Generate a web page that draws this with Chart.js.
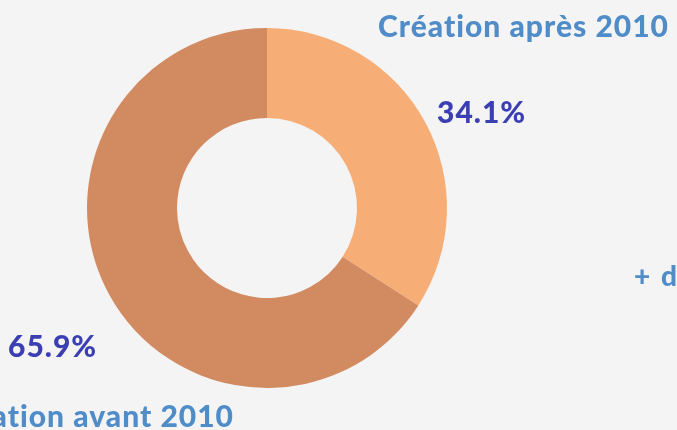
<!DOCTYPE html>
<html>
<head>
<meta charset="utf-8">
<script src="https://cdn.jsdelivr.net/npm/chart.js@4/dist/chart.umd.min.js"></script>
<style>
  html, body { margin: 0; padding: 0; background: #f4f4f4; }
  #wrap { width: 677px; height: 430px; }
</style>
</head>
<body>
<div id="wrap"><canvas id="pieChart" width="677" height="430"></canvas></div>
<script>
var labels = ['Création après 2010', 'Création avant 2010'];
var values = [34.1, 65.9];
var colors = ['#f6ae76', '#d28b61'];

// texts drawn around the ring, placed from the chart centre
var textPlugin = {
  id: 'texts',
  afterDraw: function (chart) {
    var ctx = chart.ctx;
    var arc = chart.getDatasetMeta(0).data[0];
    var cx = arc.x, cy = arc.y;
    ctx.save();
    ctx.textBaseline = 'alphabetic';
    ctx.letterSpacing = '1px';

    ctx.fillStyle = '#508dc8';
    ctx.font = '900 30px Lato';
    ctx.textAlign = 'right';
    ctx.fillText(labels[0], cx + 402, cy - 171);
    ctx.fillText(labels[1], cx - 33, cy + 219);

    ctx.fillStyle = '#3b3fb2';
    ctx.font = '900 30px Lato';
    ctx.textAlign = 'left';
    ctx.fillText(values[0].toFixed(1) + '%', cx + 170, cy - 85);
    ctx.fillText(values[1].toFixed(1) + '%', cx - 259, cy + 149);

    ctx.fillStyle = '#508dc8';
    ctx.font = '900 28px Lato';
    ctx.letterSpacing = '2px';
    ctx.fillText('+ d', cx + 367, cy + 78);
    ctx.restore();
  }
};

var pieChart = new Chart(document.getElementById('pieChart').getContext('2d'), {
  type: 'doughnut',
  data: {
    labels: labels,
    datasets: [{
      data: values,
      backgroundColor: colors,
      borderWidth: 0
    }]
  },
  options: {
    responsive: false,
    animation: false,
    cutout: '50%',
    layout: { padding: { top: 28, bottom: 42, left: 87, right: 230 } },
    plugins: {
      legend: { display: false },
      tooltip: { enabled: false }
    }
  },
  plugins: [textPlugin]
});
</script>
</body>
</html>
